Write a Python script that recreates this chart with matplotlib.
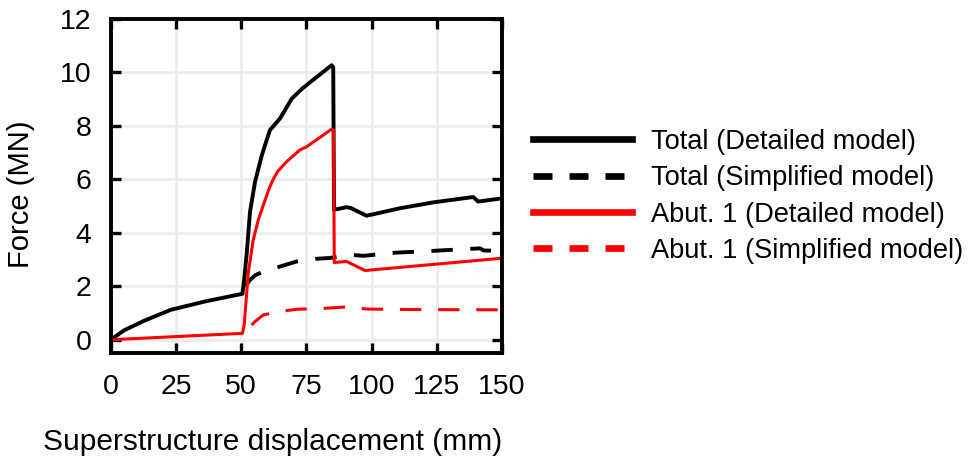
import matplotlib
matplotlib.use('Agg')
import matplotlib.pyplot as plt
from matplotlib.lines import Line2D

plt.rcParams['font.family'] = ['Liberation Sans', 'DejaVu Sans']

# Total (Detailed model)
tot_det_x = [0, 5, 13, 23, 36, 50.5, 51.2, 52.1, 53.4, 55.3, 57.9, 61, 64.9, 69.4, 73.2, 76,
             84.7, 85.3, 85.6, 86.5, 90.4, 92, 98.1, 110.9, 123.7, 139, 140.9, 150]
tot_det_y = [0, 0.35, 0.72, 1.12, 1.43, 1.72, 2.3, 3.2, 4.8, 5.9, 6.9, 7.84, 8.28, 9.02, 9.38, 9.6,
             10.27, 10.2, 4.86, 4.88, 4.96, 4.93, 4.64, 4.92, 5.14, 5.34, 5.17, 5.29]

# Total (Simplified model)
tot_simp_x = [51.5, 53.4, 55.5, 58.5, 64.9, 71.3, 79, 84, 91.7, 96.8, 109.6, 122.4, 141.6, 143, 150]
tot_simp_y = [1.99, 2.24, 2.42, 2.55, 2.74, 2.93, 3.03, 3.06, 3.18, 3.14, 3.26, 3.32, 3.42, 3.34, 3.33]

# Abut. 1 (Detailed model)
ab_det_x = [0, 50.5, 51.2, 51.8, 52.7, 54.6, 56.6, 58, 60.5, 62, 64, 67.4, 72.5, 75.1, 84.7, 85.4,
            85.7, 90.4, 97.5, 150]
ab_det_y = [0, 0.24, 0.6, 1.37, 2.49, 3.73, 4.5, 4.9, 5.6, 5.95, 6.3, 6.66, 7.1, 7.22, 7.88, 7.85,
            2.89, 2.93, 2.59, 3.05]

# Abut. 1 (Simplified model)
ab_simp_x = [54, 55.3, 58.5, 64.9, 71.3, 82.8, 90.4, 98.1, 115, 150]
ab_simp_y = [0.55, 0.68, 0.93, 1.06, 1.14, 1.18, 1.23, 1.15, 1.13, 1.12]

labels = ['Total (Detailed model)', 'Total (Simplified model)',
          'Abut. 1 (Detailed model)', 'Abut. 1 (Simplified model)']

fig = plt.figure(figsize=(9.68, 4.58), dpi=100)
ax = fig.add_axes([0.1145, 0.229, 0.404, 0.7295])

ax.plot(tot_det_x, tot_det_y, color='black', lw=2.8)
ax.plot(tot_simp_x, tot_simp_y, color='black', lw=2.8, dashes=(5.5, 4.5))
ax.plot(ab_det_x, ab_det_y, color='#ff0000', lw=2.2)
ax.plot(ab_simp_x, ab_simp_y, color='#ff0000', lw=2.2, dashes=(7, 5.5))

ax.set_xlim(0, 150)
ax.set_ylim(-0.5, 12)
ax.set_xticks(range(0, 151, 25))
ax.set_yticks(range(0, 13, 2))
ax.grid(True, color='#ebebeb', lw=1.8)
ax.set_axisbelow(True)
for s in ax.spines.values():
    s.set_linewidth(2.8)
ax.tick_params(direction='in', length=7.2, width=2.4, labelsize=20.5,
               top=True, right=True, pad=15)
ax.tick_params(axis='y', pad=14)

ax.set_xlabel('Superstructure displacement (mm)', fontsize=21.5, ha='right')
ax.xaxis.set_label_coords(1.0, -0.225)
ax.set_ylabel('Force (MN)', fontsize=21)
ax.yaxis.set_label_coords(-0.193, 0.475)

# legend proxies, drawn thicker than the curves
handles = [
    Line2D([], [], color='black', lw=4.8),
    Line2D([], [], color='black', lw=4.8, dashes=(2.85, 2.55)),
    Line2D([], [], color='#ff0000', lw=4.8),
    Line2D([], [], color='#ff0000', lw=4.8, dashes=(2.85, 2.55)),
]
fig.legend(handles, labels, loc='center left', bbox_to_anchor=(0.5505, 0.571),
           frameon=False, fontsize=19.6, handlelength=3.65, handletextpad=0.7,
           labelspacing=0.38, borderaxespad=0, borderpad=0)

fig.savefig('out.png', dpi=100)
